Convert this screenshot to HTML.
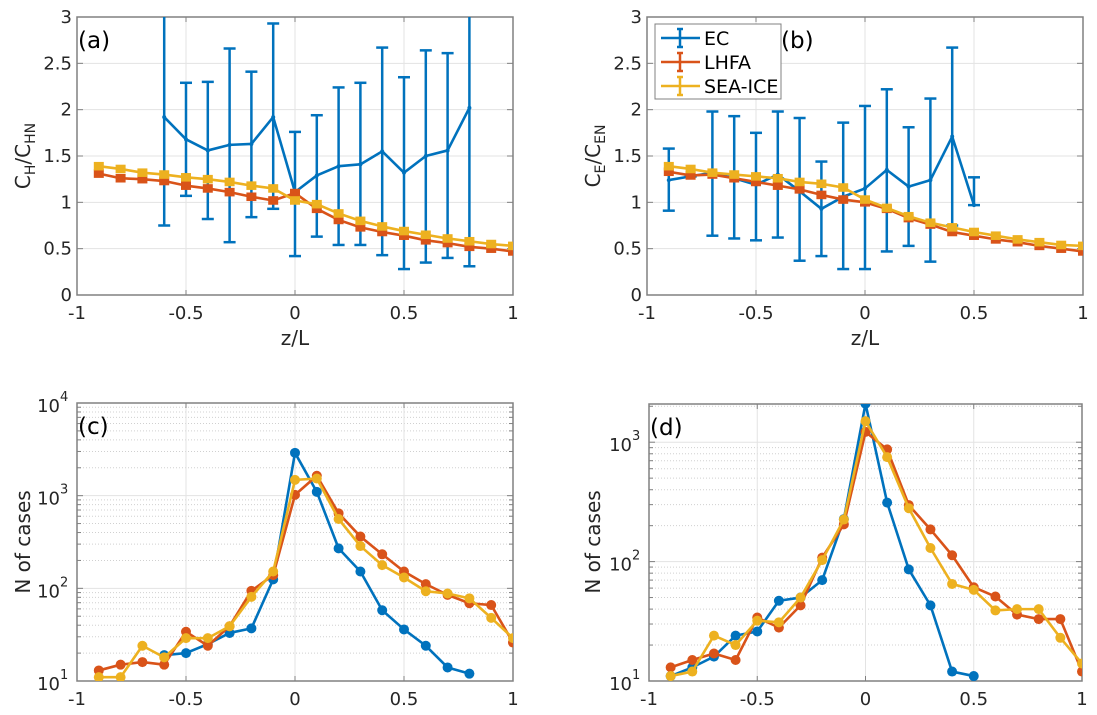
<!DOCTYPE html>
<html><head><meta charset="utf-8"><style>
html,body{margin:0;padding:0;background:#fff;}
svg{display:block;font-family:"DejaVu Sans","Liberation Sans",sans-serif;}
</style></head><body>
<svg id="fig" width="1097" height="715" viewBox="0 0 1097 715" xmlns="http://www.w3.org/2000/svg"></svg>
<script>
const zA = [-0.9,-0.8,-0.7,-0.6,-0.5,-0.4,-0.3,-0.2,-0.1,0,0.1,0.2,0.3,0.4,0.5,0.6,0.7,0.8,0.9,1.0];
const zEcA = [-0.6,-0.5,-0.4,-0.3,-0.2,-0.1,0,0.1,0.2,0.3,0.4,0.5,0.6,0.7,0.8];
const ecA = [1.92,1.68,1.56,1.62,1.63,1.92,1.11,1.29,1.39,1.41,1.55,1.32,1.50,1.56,2.02];
const ecAHi = [3.5,2.29,2.30,2.66,2.41,2.93,1.76,1.94,2.24,2.29,2.67,2.35,2.64,2.61,3.5];
const ecALo = [0.75,1.07,0.82,0.57,0.84,0.93,0.42,0.63,0.54,0.54,0.43,0.28,0.35,0.40,0.31];
const lhfaA = [1.31,1.26,1.25,1.23,1.18,1.15,1.11,1.06,1.02,1.10,0.93,0.81,0.73,0.68,0.64,0.59,0.56,0.52,0.50,0.47];
const iceA = [1.39,1.36,1.32,1.30,1.27,1.25,1.22,1.18,1.15,1.02,0.98,0.88,0.80,0.74,0.69,0.65,0.61,0.58,0.55,0.53];
const zEcB = [-0.9,-0.8,-0.7,-0.6,-0.5,-0.4,-0.3,-0.2,-0.1,0,0.1,0.2,0.3,0.4,0.5];
const ecB = [1.24,1.28,1.32,1.26,1.19,1.30,1.12,0.93,1.06,1.15,1.35,1.17,1.24,1.71,0.97];
const ecBHi = [1.58,1.28,1.98,1.93,1.75,1.98,1.91,1.44,1.86,2.04,2.22,1.81,2.12,2.67,1.27];
const ecBLo = [0.91,1.28,0.64,0.61,0.59,0.62,0.37,0.42,0.28,0.28,0.47,0.53,0.36,0.75,0.97];
const lhfaB = [1.33,1.29,1.30,1.26,1.22,1.18,1.14,1.08,1.03,1.00,0.93,0.83,0.76,0.68,0.64,0.60,0.57,0.53,0.50,0.47];
const iceB = [1.39,1.36,1.32,1.30,1.28,1.26,1.22,1.20,1.16,1.03,0.94,0.85,0.78,0.73,0.68,0.64,0.60,0.57,0.54,0.53];
const smallErr = 0.03;
const zEcC = [-0.6,-0.5,-0.4,-0.3,-0.2,-0.1,0,0.1,0.2,0.3,0.4,0.5,0.6,0.7,0.8];
const ecC = [19,20,25,33,37,125,2900,1100,270,152,58,36,24,14,12];
const lhfaC = [13,15,16,15,34,24,39,94,139,1020,1640,645,362,233,152,111,85,69,66,26];
const iceC = [11,11,24,18,29,29,39,81,152,1480,1530,560,286,178,131,93,88,78,48,29];
const zEcD = [-0.9,-0.8,-0.7,-0.6,-0.5,-0.4,-0.3,-0.2,-0.1,0,0.1,0.2,0.3,0.4,0.5];
const ecD = [11,13,16,24,26,47,50,70,227,2100,312,86,43,12,11];
const lhfaD = [13,15,17,15,34,28,43,108,205,1220,870,297,186,113,61,51,36,33,33,12];
const iceD = [11,12,24,20,32,31,50,103,225,1500,750,280,130,65,58,39,40,40,23,14];
const xTicks = [-1,-0.5,0,0.5,1];
const xTickLabels = ["-1","-0.5","0","0.5","1"];
const linTicks = [0,0.5,1,1.5,2,2.5,3];
const linTickLabels = ["0","0.5","1","1.5","2","2.5","3"];

const C = {ec:"#0072BD", lh:"#D95319", ice:"#EDB120"};
const svg = document.getElementById('fig');
const NS = "http://www.w3.org/2000/svg";
function mk(tag, attrs, parent){
  const e = document.createElementNS(NS, tag);
  for (const k in attrs) e.setAttribute(k, attrs[k]);
  (parent||svg).appendChild(e); return e;
}
function panel(p){
  const g = mk('g', {});
  
  
  const X = v => p.x0 + (v+1)/2*(p.x1-p.x0);
  const Y = p.log ? v => p.yb - (Math.log10(v)-p.lmin)/(p.lmax-p.lmin)*(p.yb-p.yt)
                  : v => p.yb - v/3*(p.yb-p.yt);
  const clip = 'clip-'+p.name;
  const cp = mk('clipPath', {id:clip}, g);
  mk('rect', {x:p.x0, y:p.yt, width:p.x1-p.x0, height:p.yb-p.yt}, cp);
  if (p.log){
    for (let d=p.lmin; d<Math.ceil(p.lmax); d++) for (let m=2;m<10;m++){
      const v = m*Math.pow(10,d); if (Math.log10(v)>p.lmax) continue;
      const y=Y(v);
      mk('line',{x1:p.x0,x2:p.x1,y1:y,y2:y,stroke:'#d0d0d0','stroke-width':1,'stroke-dasharray':'1,2'},g);
      mk('line',{x1:p.x0,x2:p.x0+4,y1:y,y2:y,stroke:'#808080','stroke-width':1},g);
      mk('line',{x1:p.x1,x2:p.x1-4,y1:y,y2:y,stroke:'#808080','stroke-width':1},g);
    }
  }
  xTicks.forEach((t,i)=>{
    const x=X(t);
    mk('line',{x1:x,x2:x,y1:p.yt,y2:p.yb,stroke:'#e3e3e3','stroke-width':1},g);
    mk('line',{x1:x,x2:x,y1:p.yb,y2:p.yb-5,stroke:'#808080','stroke-width':1},g);
    mk('line',{x1:x,x2:x,y1:p.yt,y2:p.yt+5,stroke:'#808080','stroke-width':1},g);
    const tl = mk('text',{x:x,y:p.yb+24,'text-anchor':'middle','font-size':18,fill:'#262626'},g);
    tl.textContent = xTickLabels[i];
    
    
  });
  const yt = p.log ? p.decades : linTicks;
  yt.forEach((t,i)=>{
    const y = p.log ? Y(Math.pow(10,t)) : Y(t);
    mk('line',{x1:p.x0,x2:p.x1,y1:y,y2:y,stroke:'#e3e3e3','stroke-width':1},g);
    mk('line',{x1:p.x0,x2:p.x0+6,y1:y,y2:y,stroke:'#808080','stroke-width':1},g);
    mk('line',{x1:p.x1,x2:p.x1-6,y1:y,y2:y,stroke:'#808080','stroke-width':1},g);
    const tl = mk('text',{x:p.x0-5,y:y+6,'text-anchor':'end','font-size':18,fill:'#262626'},g);
    
    
    if (p.log){
      tl.setAttribute('x', p.x0-17);
      tl.setAttribute('y', y+9);
      tl.textContent='10';
      const s = mk('text',{x:p.x0-17,y:y-2,'font-size':13,fill:'#262626'},g);
      s.textContent = String(t);
    } else tl.textContent = linTickLabels[i];
  });
  mk('rect',{x:p.x0,y:p.yt,width:p.x1-p.x0,height:p.yb-p.yt,fill:'none',stroke:'#808080','stroke-width':1.5},g);
  const dg = mk('g',{'clip-path':'url(#'+clip+')'},g);
  function series(xs, ys, color, name, opts){
    const sg = mk('g',{},dg);
    
    
    if (opts.hi){
      xs.forEach((x,i)=>{
        const px=X(x), a=Y(opts.hi[i]), b=Y(opts.lo[i]);
        mk('line',{x1:px,x2:px,y1:a,y2:b,stroke:color,'stroke-width':2.5},sg);
        mk('line',{x1:px-6,x2:px+6,y1:a,y2:a,stroke:color,'stroke-width':2.5},sg);
        mk('line',{x1:px-6,x2:px+6,y1:b,y2:b,stroke:color,'stroke-width':2.5},sg);
      });
    }
    if (opts.small){
      xs.forEach((x,i)=>{
        const px=X(x), a=Y(ys[i]+smallErr), b=Y(ys[i]-smallErr);
        mk('rect',{x:px-5,y:a-1.5,width:10,height:b-a+3,fill:color},sg);
      });
    }
    mk('polyline',{points:xs.map((x,i)=>X(x)+','+Y(ys[i])).join(' '),fill:'none',stroke:color,'stroke-width':2.6,'stroke-linejoin':'round'},sg);
    xs.forEach((x,i)=>{
      const c = mk('circle',{cx:X(x),cy:Y(ys[i]),r:opts.r,fill:color},sg);
      
      
    });
  }
  p.draw(series);
  const lab = mk('text',{x:p.lx||p.x0+1,y:p.yt+31,'font-size':23,fill:'#000'},g);
  lab.textContent = p.label;
  
  
  return {g,X,Y};
}
function ylab(x, y, main, sub1, sub2, name){
  const t = mk('text',{transform:'translate('+x+','+y+') rotate(-90)','text-anchor':'middle','font-size':20,fill:'#262626'});
  
  
  if (!sub1){ t.textContent = main; return; }
  const a=mk('tspan',{},t); a.textContent=main[0];
  const b=mk('tspan',{'font-size':14,dy:5},t); b.textContent=sub1;
  const c=mk('tspan',{dy:-5},t); c.textContent='/'+main[0];
  const d=mk('tspan',{'font-size':14,dy:5},t); d.textContent=sub2;
}
function xlab(x,y,name){
  const t=mk('text',{x:x,y:y,'text-anchor':'middle','font-size':20,fill:'#262626'});
  t.textContent='z/L';
  
  
}
panel({name:'panel-a',label:'(a)',x0:77,x1:513,yt:17,yb:295,log:false,draw:s=>{
  s(zEcA,ecA,C.ec,'ec-series-a',{hi:ecAHi,lo:ecALo,r:2});
  s(zA,lhfaA,C.lh,'lhfa-series-a',{small:true,r:2});
  s(zA,iceA,C.ice,'seaice-series-a',{small:true,r:2});
}});
panel({name:'panel-b',label:'(b)',lx:781,x0:647,x1:1083,yt:17,yb:295,log:false,draw:s=>{
  s(zEcB,ecB,C.ec,'ec-series-b',{hi:ecBHi,lo:ecBLo,r:2});
  s(zA,lhfaB,C.lh,'lhfa-series-b',{small:true,r:2});
  s(zA,iceB,C.ice,'seaice-series-b',{small:true,r:2});
}});
panel({name:'panel-c',label:'(c)',x0:77,x1:513,yt:403,yb:681,log:true,lmin:1,lmax:4,decades:[1,2,3,4],draw:s=>{
  s(zEcC,ecC,C.ec,'ec-series-c',{r:5});
  s(zA,lhfaC,C.lh,'lhfa-series-c',{r:5});
  s(zA,iceC,C.ice,'seaice-series-c',{r:5});
}});
panel({name:'panel-d',label:'(d)',x0:649,x1:1082,yt:404,yb:681,log:true,lmin:1,lmax:3.32,decades:[1,2,3],draw:s=>{
  s(zEcD,ecD,C.ec,'ec-series-d',{r:5});
  s(zA,lhfaD,C.lh,'lhfa-series-d',{r:5});
  s(zA,iceD,C.ice,'seaice-series-d',{r:5});
}});
ylab(30,156,'CC','H','HN','y-axis-title-a');
ylab(600,156,'CC','E','EN','y-axis-title-b');
ylab(30,542,'N of cases',null,null,'y-axis-title-c');
ylab(600,542,'N of cases',null,null,'y-axis-title-d');
xlab(295,345,'x-axis-title-a');
xlab(865,345,'x-axis-title-b');
const lg = mk('g',{});


mk('rect',{x:655,y:24,width:126,height:75,fill:'#fff',stroke:'#808080','stroke-width':1},lg);
[['EC',C.ec,38],['LHFA',C.lh,62],['SEA-ICE',C.ice,86]].forEach(([n,c,y])=>{
  const e = mk('g',{},lg);
  
  
  mk('line',{x1:661,x2:700,y1:y,y2:y,stroke:c,'stroke-width':2.5},e);
  mk('line',{x1:680,x2:680,y1:y-9,y2:y+9,stroke:c,'stroke-width':2.5},e);
  mk('line',{x1:677,x2:683,y1:y-9,y2:y-9,stroke:c,'stroke-width':2.5},e);
  mk('line',{x1:677,x2:683,y1:y+9,y2:y+9,stroke:c,'stroke-width':2.5},e);
  const t = mk('text',{x:704,y:y+7,'font-size':19,fill:'#000'},e);
  t.textContent = n;
});
</script>
</body></html>
